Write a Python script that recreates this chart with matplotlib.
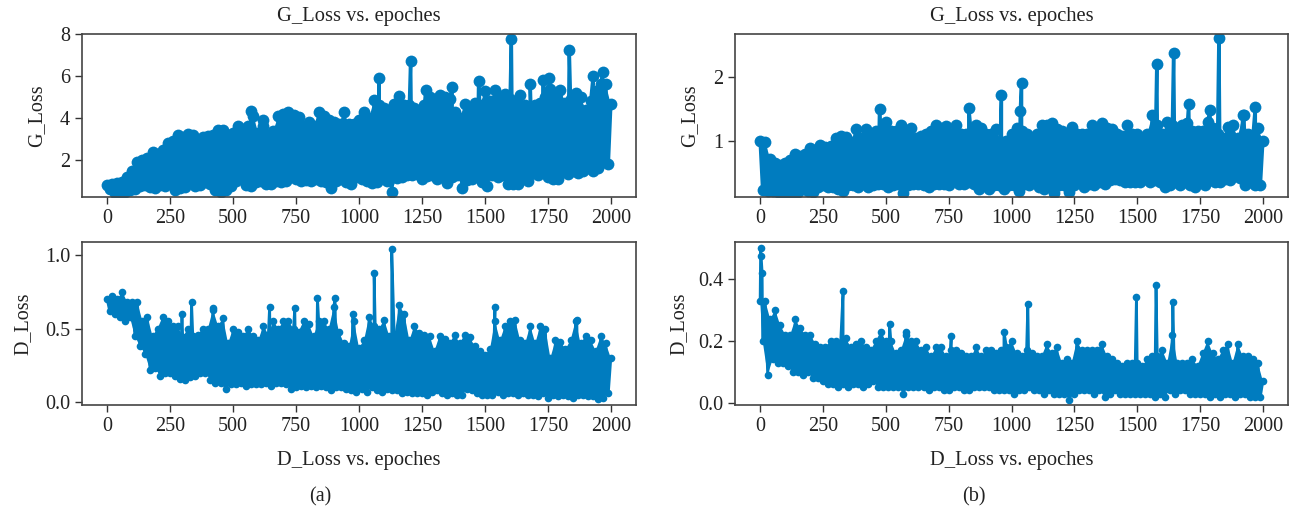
import numpy as np
import matplotlib
matplotlib.use('Agg')
import matplotlib.pyplot as plt

plt.rcParams['font.family'] = ['Liberation Serif', 'DejaVu Serif']

# upper edge of the band, one value per 20 epochs (0..2000)
g_high_a = [.8, .85, .9, .95, 1.2, 1.5, 1.9, 2.0, 2.1, 2.4,
            2.3, 2.5, 2.8, 2.9, 3.2, 3.1, 3.25, 3.2, 2.9, 3.1,
            3.15, 3.2, 3.45, 3.45, 3.2, 3.3, 3.6, 3.5, 3.6, 4.1,
            3.3, 3.6, 3.2, 3.4, 4.1, 4.2, 4.3, 4.15, 4.05, 3.6,
            3.8, 3.6, 4.3, 4.1, 3.9, 3.8, 3.7, 4.3, 3.7, 3.7,
            3.9, 4.3, 4.0, 4.85, 4.6, 4.5, 4.4, 4.65, 5.05, 4.6,
            4.6, 4.5, 4.3, 4.6, 5.0, 4.9, 5.1, 5.0, 4.9, 4.3,
            4.0, 4.65, 4.5, 4.7, 4.6, 5.3, 4.8, 5.35, 4.9, 5.15,
            4.9, 4.8, 5.1, 4.6, 4.3, 4.6, 4.7, 5.0, 5.4, 5.0,
            5.35, 4.7, 4.9, 5.2, 5.0, 4.4, 4.8, 5.3, 5.6, 5.6,
            4.65]
# lower edge, one value per 20 epochs (10..1990)
g_low_a = [.6, .45, .4, .5, .55, .6, .75, .8, .7, .65,
           .8, .75, .9, .55, .65, .7, .95, .75, .8, .95,
           .85, .55, .5, .55, .75, 1.0, 1.2, .8, .75, .95,
           1.0, .85, .85, 1.0, .95, 1.0, 1.2, 1.1, 1.0, 1.05,
           1.0, 1.1, 1.0, .95, .65, 1.0, 1.1, .95, .85, 1.2,
           1.1, 1.0, .9, .95, 1.15, 1.0, .5, 1.15, 1.2, 1.3,
           1.3, 1.35, 1.1, 1.25, 1.3, 1.1, 1.2, .9, 1.2, 1.3,
           .65, 1.05, 1.1, 1.4, .95, .75, 1.3, 1.2, 1.3, .85,
           .85, .85, 1.25, 1.0, 1.4, 1.3, 1.5, 1.2, 1.1, 1.1,
           1.5, 1.35, 1.5, 1.4, 1.5, 1.6, 1.5, 1.6, 1.9, 1.8]
g_peak_x_a = [570, 620, 1080, 1205, 1265, 1370, 1475, 1605, 1680, 1730, 1755, 1835, 1930, 1968]
g_peak_y_a = [4.35, 3.9, 5.9, 6.7, 5.35, 5.5, 5.75, 7.75, 5.6, 5.8, 5.9, 7.25, 6.0, 6.2]

d_high_a = [.70, .72, .70, .75, .68, .68, .68, .55, .58, .45,
            .50, .58, .55, .52, .52, .44, .50, .45, .46, .50,
            .50, .63, .52, .57, .40, .50, .48, .45, .50, .45,
            .42, .52, .46, .55, .50, .55, .55, .50, .48, .55,
            .53, .45, .55, .55, .50, .65, .48, .40, .38, .55,
            .37, .42, .58, .52, .50, .56, .45, .45, .66, .60,
            .42, .52, .47, .46, .45, .35, .45, .43, .40, .46,
            .40, .46, .44, .38, .35, .32, .36, .55, .42, .52,
            .55, .56, .42, .40, .52, .40, .52, .50, .30, .42,
            .41, .36, .42, .55, .40, .45, .42, .35, .45, .40,
            .30]
d_low_a = [.62, .60, .58, .55, .58, .45, .38, .33, .22, .23,
           .18, .20, .20, .18, .16, .15, .17, .18, .20, .20,
           .15, .13, .13, .09, .12, .12, .13, .11, .12, .12,
           .12, .13, .11, .13, .13, .12, .09, .10, .11, .10,
           .11, .10, .11, .10, .08, .10, .10, .09, .08, .07,
           .09, .07, .10, .08, .07, .09, .08, .08, .06, .07,
           .06, .06, .06, .05, .07, .08, .06, .05, .06, .05,
           .05, .09, .08, .06, .05, .05, .05, .07, .05, .06,
           .06, .05, .06, .05, .05, .04, .06, .03, .05, .04,
           .05, .04, .03, .05, .05, .04, .04, .02, .03, .06]
d_peak_x_a = [297, 335, 420, 645, 745, 835, 905, 975, 1060, 1130, 1540, 1865]
d_peak_y_a = [.60, .68, .64, .65, .64, .71, .71, .60, .88, 1.04, .65, .56]

g_high_b = [1.0, .98, .72, .65, .62, .65, .70, .80, .76, .80,
            .88, .86, .93, .90, .92, 1.05, 1.07, 1.06, .98, 1.18,
            1.05, 1.18, 1.10, 1.15, 1.15, 1.30, 1.15, 1.15, 1.25, 1.1,
            1.2, 1.05, 1.08, 1.1, 1.15, 1.25, 1.2, 1.23, 1.1, 1.25,
            1.1, 1.1, 1.1, 1.25, 1.2, 1.1, 1.1, 1.18, .95, 1.0,
            1.1, 1.2, 1.15, 1.1, 1.0, 1.1, 1.25, 1.25, 1.27, 1.18,
            1.15, 1.1, 1.22, 1.1, 1.1, 1.1, 1.25, 1.2, 1.27, 1.2,
            1.18, 1.1, 1.08, 1.24, 1.1, 1.1, 1.05, 1.1, 1.4, 1.25,
            1.1, 1.3, 1.25, 1.2, 1.25, 1.28, 1.15, 1.15, 1.15, 1.3,
            1.2, 1.1, 1.05, 1.22, 1.25, 1.05, 1.4, 1.1, 1.05, 1.2,
            1.0]
g_low_b = [.23, .22, .22, .2, .17, .15, .17, .2, .24, .22,
           .20, .28, .3, .28, .27, .25, .22, .3, .3, .28,
           .32, .27, .3, .33, .33, .28, .3, .33, .19, .3,
           .33, .33, .3, .28, .33, .33, .32, .3, .38, .33,
           .33, .35, .33, .25, .33, .25, .3, .3, .25, .3,
           .3, .22, .33, .3, .35, .28, .24, .33, .18, .3,
           .3, .2, .3, .35, .28, .33, .3, .35, .33, .38,
           .4, .38, .35, .35, .35, .35, .4, .35, .38, .35,
           .28, .3, .35, .3, .35, .3, .28, .35, .3, .38,
           .35, .35, .4, .38, .45, .42, .3, .35, .3, .3]
g_peak_x_b = [475, 830, 960, 1035, 1040, 1578, 1645, 1705, 1790, 1825, 1925, 1970]
g_peak_y_b = [1.5, 1.52, 1.71, 1.47, 1.9, 2.2, 2.38, 1.58, 1.48, 2.6, 1.4, 1.53]

d_high_b = [.33, .33, .27, .3, .25, .22, .22, .27, .24, .22,
            .22, .19, .18, .18, .2, .2, .19, .21, .18, .19,
            .2, .18, .17, .2, .23, .2, .2, .16, .17, .22,
            .2, .2, .17, .18, .15, .18, .18, .15, .17, .17,
            .16, .15, .15, .18, .15, .17, .17, .16, .17, .18,
            .2, .16, .15, .17, .16, .15, .15, .19, .16, .18,
            .13, .14, .13, .2, .17, .17, .17, .17, .19, .15,
            .14, .13, .12, .13, .13, .13, .12, .14, .15, .15,
            .17, .13, .22, .13, .13, .13, .14, .12, .16, .2,
            .16, .14, .17, .19, .13, .19, .15, .15, .14, .13,
            .07]
d_low_b = [.2, .09, .14, .13, .13, .12, .1, .1, .09, .1,
           .08, .08, .07, .06, .06, .05, .06, .05, .06, .06,
           .05, .06, .07, .05, .05, .05, .05, .05, .03, .05,
           .05, .05, .05, .04, .05, .05, .04, .04, .05, .05,
           .04, .04, .05, .05, .05, .05, .04, .04, .04, .04,
           .03, .04, .04, .05, .04, .04, .03, .04, .03, .03,
           .03, .01, .03, .04, .04, .04, .03, .04, .02, .03,
           .04, .03, .03, .03, .03, .03, .03, .03, .02, .03,
           .02, .04, .03, .04, .04, .03, .03, .03, .03, .02,
           .03, .02, .03, .03, .02, .03, .03, .02, .02, .02]
d_peak_x_b = [2, 4, 8, 330, 515, 580, 760, 970, 1065, 1497, 1575, 1642]
d_peak_y_b = [.5, .475, .42, .36, .255, .23, .215, .23, .32, .34, .38, .325]

BLUE = '#007cbf'
TEXT = '#222222'
W, H = 1293, 515


def panel(left, right, top, bottom, high, low, peak_x, peak_y, ylim, yticks, ylabel, ms, lw, pad):
    ax = fig.add_axes([left / W, 1 - bottom / H, (right - left) / W, (bottom - top) / H])
    hx = np.arange(0, 2001, 20)
    lx = np.arange(10, 2000, 20)
    x = np.concatenate([hx, lx, peak_x])
    y = np.concatenate([high, low, peak_y])
    order = np.argsort(x)
    # the real series is too dense to show gaps, so close the band between its edges
    ax.fill(np.concatenate([hx, lx[::-1]]), np.concatenate([high, low[::-1]]), color=BLUE, lw=0)
    ax.plot(x[order], y[order], color=BLUE, lw=lw, marker='o', ms=ms, mew=0)
    ax.set_xlim(-100, 2100)
    ax.set_ylim(*ylim)
    ax.set_xticks(range(0, 2001, 250))
    ax.set_yticks(yticks)
    ax.set_ylabel(ylabel, fontsize=14.5, color=TEXT, labelpad=pad)
    ax.tick_params(labelsize=14.5, labelcolor=TEXT, color='#333333', length=5, width=1)
    for s in ax.spines.values():
        s.set_color('#444444')
        s.set_linewidth(1.2)
    return ax


fig = plt.figure(figsize=(W / 100, H / 100), dpi=100)

ax = panel(82, 636, 34, 197, g_high_a, g_low_a, g_peak_x_a, g_peak_y_a,
           (0.24, 8), [2, 4, 6, 8], 'G_Loss', 8.5, 2.5, 10)
ax.set_title('G_Loss vs. epoches', fontsize=14.8, color=TEXT, pad=9)
ax = panel(82, 636, 242, 405, d_high_a, d_low_a, d_peak_x_a, d_peak_y_a,
           (-0.02, 1.09), [0, .5, 1], 'D_Loss', 5.5, 2, 9)
ax.set_yticklabels(['0.0', '0.5', '1.0'])
ax.set_xlabel('D_Loss vs. epoches', fontsize=14.8, color=TEXT, labelpad=11)

ax = panel(735, 1288, 34, 197, g_high_b, g_low_b, g_peak_x_b, g_peak_y_b,
           (0.12, 2.67), [1, 2], 'G_Loss', 8.5, 2.5, 10)
ax.set_title('G_Loss vs. epoches', fontsize=14.8, color=TEXT, pad=9)
ax = panel(735, 1288, 242, 405, d_high_b, d_low_b, d_peak_x_b, d_peak_y_b,
           (-0.007, 0.519), [0, .2, .4], 'D_Loss', 5.5, 2, 7)
ax.set_yticklabels(['0.0', '0.2', '0.4'])
ax.set_xlabel('D_Loss vs. epoches', fontsize=14.8, color=TEXT, labelpad=11)

fig.text(320 / W, 1 - 497 / H, '(a)', fontsize=14.5, color=TEXT, ha='center', va='center')
fig.text(974 / W, 1 - 497 / H, '(b)', fontsize=14.5, color=TEXT, ha='center', va='center')

fig.savefig('out.png', dpi=100)
plt.close(fig)
